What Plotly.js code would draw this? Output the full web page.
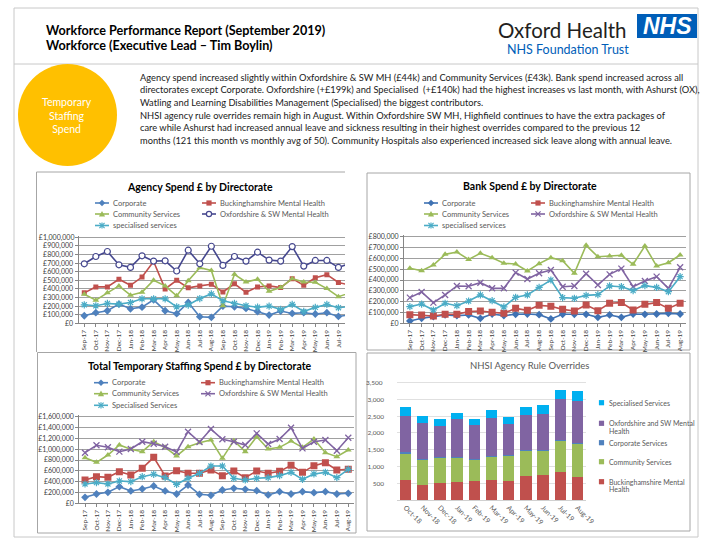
<!DOCTYPE html>
<html><head><meta charset="utf-8">
<script src="https://cdn.plot.ly/plotly-3.0.1.min.js"></script>
<style>
html,body{margin:0;padding:0;background:#fff}
#wrap{position:relative;width:720px;height:540px}
#chart{width:720px;height:540px}
.toplabel{position:absolute;z-index:20;white-space:nowrap;font-family:Lato,"Open Sans",sans-serif;line-height:9px;text-align:right}
</style>
</head><body><div id="wrap"><div id="chart"></div></div>
<script>
// ---------- DATA ----------
const months = ['Sep-17','Oct-17','Nov-17','Dec-17','Jan-18','Feb-18','Mar-18','Apr-18','May-18','Jun-18','Jul-18','Aug-18','Sep-18','Oct-18','Nov-18','Dec-18','Jan-19','Feb-19','Mar-19','Apr-19','May-19','Jun-19','Jul-19','Aug-19'];
const seriesNames = ['Corporate','Buckinghamshire Mental Health','Community Services','Oxfordshire & SW Mental Health','specialised services'];
const totalNames = ['Corporate','Buckinghamshire Mental Health','Community Services','Oxfordshire & SW Mental Health','Specialised Services'];

// Agency spend (£)
const agencyCorporate   = [88000,123000,146000,223000,169000,188000,273000,146000,112000,242000,77000,69000,200000,192000,173000,135000,96000,142000,115000,123000,108000,123000,80000,99000];
const agencyBucks       = [354000,423000,423000,512000,442000,538000,719000,400000,500000,412000,435000,454000,365000,460000,360000,423000,435000,415000,519000,442000,530000,565000,475000,443000];
const agencyCommunity   = [338000,269000,354000,435000,327000,362000,500000,435000,319000,495000,646000,615000,204000,569000,480000,512000,373000,415000,519000,480000,477000,404000,309000,354000];
const agencyOxon        = [692000,777000,835000,680000,650000,785000,723000,727000,608000,850000,692000,896000,673000,777000,723000,827000,735000,723000,892000,665000,731000,731000,650000,695000];
const agencySpecialised = [215000,204000,231000,223000,242000,285000,285000,285000,192000,212000,288000,342000,262000,231000,204000,188000,200000,162000,219000,138000,185000,219000,181000,197000];

// Bank spend (£)
const bankCorporate   = [22000,46000,62000,77000,71000,77000,46000,86000,71000,83000,86000,80000,40000,83000,83000,83000,55000,77000,55000,86000,83000,86000,92000,86000];
const bankBucks       = [80000,77000,68000,83000,83000,108000,114000,102000,92000,138000,120000,166000,157000,129000,114000,169000,117000,185000,191000,123000,175000,191000,138000,185000];
const bankCommunity   = [508000,486000,538000,637000,658000,590000,646000,606000,554000,548000,483000,551000,606000,578000,462000,720000,615000,622000,628000,545000,714000,529000,560000,631000];
const bankOxon        = [237000,289000,191000,262000,345000,342000,375000,323000,323000,468000,409000,462000,492000,338000,345000,458000,354000,452000,505000,338000,391000,431000,323000,517000];
const bankSpecialised = [154000,178000,123000,185000,163000,206000,262000,209000,151000,240000,262000,332000,400000,237000,231000,258000,265000,345000,338000,302000,348000,332000,292000,431000];

// Total temporary staffing spend (£)
const totalCorporate   = [111000,172000,203000,308000,228000,265000,320000,228000,172000,338000,166000,148000,246000,277000,258000,234000,154000,215000,172000,215000,197000,215000,172000,185000];
const totalBucks       = [431000,492000,480000,585000,523000,646000,849000,505000,603000,554000,554000,615000,511000,597000,474000,597000,554000,590000,702000,572000,695000,750000,615000,628000];
const totalCommunity   = [843000,757000,892000,1077000,997000,954000,1138000,1034000,874000,1046000,1120000,1169000,831000,1157000,954000,1231000,1003000,1034000,1150000,1034000,1188000,935000,862000,985000];
const totalOxon        = [935000,1071000,1034000,954000,1003000,1138000,1100000,1046000,948000,1323000,1132000,1372000,1182000,1138000,1077000,1292000,1095000,1188000,1397000,1015000,1138000,1169000,972000,1212000];
const totalSpecialised = [357000,382000,357000,412000,400000,492000,535000,474000,351000,462000,554000,689000,689000,462000,431000,462000,474000,511000,572000,443000,542000,572000,474000,628000];

// NHSI agency rule overrides
const overrideMonths = ['Oct-18','Nov-18','Dec-18','Jan-19','Feb-19','Mar-19','Apr-19','May-19','Jun-19','Jul-19','Aug-19'];
const ovBucks       = [596,457,507,537,577,596,567,726,746,835,696];
const ovCommunity   = [786,736,755,706,616,686,745,735,715,924,974];
const ovCorporate   = [45,40,30,30,30,30,40,30,30,30,30];
const ovOxon        = [1078,1073,915,1133,1014,1143,904,1034,1064,1223,1242];
const ovSpecialised = [278,199,199,198,188,229,229,258,278,268,299];
const ovNames = ['Buckinghamshire Mental Health','Community Services','Corporate Services','Oxfordshire and SW Mental Health','Specialised Services'];
const ovLegendLines = [['Buckinghamshire Mental','Health'],['Community Services'],['Corporate Services'],['Oxfordshire and SW Mental','Health'],['Specialised Services']];
const ovTicks = [500,1000,1500,2000,2500,3000,3500];

// ---------- STYLE ----------
const W = 720, H = 540;
const X = p => p / W;
const Y = p => 1 - p / H;
const FONT = 'Lato, "Open Sans", sans-serif';
const C = {corp:'#4F81BD', bucks:'#C0504D', comm:'#9BBB59', oxonA:'#46488F', oxon:'#8064A2', spec:'#4BACC6', ovSpec:'#00B0F0'};

function lt(name, y, color, marker, xa, ya) {
  return {type:'scatter', mode:'lines+markers', x:months, y:y, name:name,
    line:{color:color, width:1.6}, marker:marker, xaxis:xa, yaxis:ya,
    showlegend:false, cliponaxis:true, hoverinfo:'skip'};
}
const mk = {
  diamond: c => ({symbol:'diamond', size:6, color:c}),
  square: (c,s) => ({symbol:'square', size:s||5, color:c}),
  tri: c => ({symbol:'triangle-up', size:6, color:c}),
  circ: c => ({symbol:'circle', size:6, color:'#ffffff', line:{color:c, width:1.2}}),
  x: c => ({symbol:'x-thin-open', size:6, color:c, line:{color:c, width:1.3}}),
  ast: c => ({symbol:'asterisk-open', size:6, color:c, line:{color:c, width:1.2}})
};

const traces = [
  lt(seriesNames[0], agencyCorporate, C.corp, mk.diamond(C.corp), 'x', 'y'),
  lt(seriesNames[1], agencyBucks, C.bucks, mk.square(C.bucks,5), 'x', 'y'),
  lt(seriesNames[2], agencyCommunity, C.comm, mk.tri(C.comm), 'x', 'y'),
  lt(seriesNames[3], agencyOxon, C.oxonA, mk.circ(C.oxonA), 'x', 'y'),
  lt(seriesNames[4], agencySpecialised, C.spec, mk.ast(C.spec), 'x', 'y'),

  lt(seriesNames[0], bankCorporate, '#3F72B3', mk.diamond('#3F72B3'), 'x2', 'y2'),
  lt(seriesNames[1], bankBucks, C.bucks, mk.square(C.bucks,7), 'x2', 'y2'),
  lt(seriesNames[2], bankCommunity, C.comm, mk.tri(C.comm), 'x2', 'y2'),
  lt(seriesNames[3], bankOxon, C.oxon, mk.x(C.oxon), 'x2', 'y2'),
  lt(seriesNames[4], bankSpecialised, C.spec, mk.ast(C.spec), 'x2', 'y2'),

  lt(totalNames[0], totalCorporate, C.corp, mk.diamond(C.corp), 'x3', 'y3'),
  lt(totalNames[1], totalBucks, C.bucks, mk.square(C.bucks,7), 'x3', 'y3'),
  lt(totalNames[2], totalCommunity, C.comm, mk.tri(C.comm), 'x3', 'y3'),
  lt(totalNames[3], totalOxon, C.oxon, mk.x(C.oxon), 'x3', 'y3'),
  lt(totalNames[4], totalSpecialised, C.spec, mk.ast(C.spec), 'x3', 'y3')
];
const ovSeries = [ovBucks, ovCommunity, ovCorporate, ovOxon, ovSpecialised];
const ovColors = [C.bucks, C.comm, C.corp, C.oxon, C.ovSpec];
ovSeries.forEach((v,i) => traces.push({type:'bar', x:overrideMonths, y:v, name:ovNames[i],
  marker:{color:ovColors[i]}, xaxis:'x4', yaxis:'y4', showlegend:false, hoverinfo:'skip'}));

// ---------- AXES ----------
const tickF = {family:FONT, size:6.5, color:'#404040'};
function xLine(domain, range) {
  return {type:'category', domain:domain, range:range, tickangle:-90, tickfont:tickF,
    showline:true, linecolor:'#868686', linewidth:1, ticks:'outside', ticklen:3, tickcolor:'#868686',
    showgrid:false, zeroline:false, fixedrange:true};
}
function yLine(domain, max, dtick) {
  return {domain:domain, range:[0,max], dtick:dtick, tick0:0, tickprefix:'£', tickformat:',d', tickfont:{family:FONT,size:7,color:'#404040'},
    showline:true, linecolor:'#868686', ticks:'outside', ticklen:3, tickcolor:'#868686', ticklabeloverflow:'allow',
    gridcolor:'#a0a0a0', gridwidth:1, zeroline:false, fixedrange:true};
}

const layout = {
  width:W, height:H, margin:{l:0,r:0,t:0,b:0}, paper_bgcolor:'#ffffff', plot_bgcolor:'rgba(0,0,0,0)',
  font:{family:FONT}, showlegend:false, barmode:'stack', bargap:0.34,
  xaxis: Object.assign(xLine([X(78.5),X(345)], [-0.5,22.57]), {anchor:'y'}),
  yaxis: Object.assign(yLine([Y(323.3),Y(236)], 1015100, 100000), {anchor:'x'}),
  xaxis2: Object.assign(xLine([X(404),X(686)], [-0.5,23.5]), {anchor:'y2'}),
  yaxis2: Object.assign(yLine([Y(323.3),Y(235.4)], 812000, 100000), {anchor:'x2'}),
  xaxis3: Object.assign(xLine([X(79.3),X(354)], [-0.5,23.5]), {anchor:'y3'}),
  yaxis3: Object.assign(yLine([Y(503.3),Y(415.4)], 1624000, 200000), {anchor:'x3'}),
  xaxis4: {type:'category', domain:[X(397),X(586)], anchor:'y4', tickangle:45, tickfont:{family:FONT,size:7,color:'#595959'},
    showline:true, linecolor:'#d0d0d0', ticks:'', showgrid:false, zeroline:false},
  yaxis4: {domain:[Y(500),Y(381.4)], anchor:'x4', range:[0,3539], tickvals:ovTicks, tickformat:',d', ticklabeloverflow:'allow',
    ticklabelstandoff:12, tickfont:{family:FONT,size:6.5,color:'#595959'}, gridcolor:'#e0e0e0', showline:false, zeroline:false, ticks:''},
  shapes: [], annotations: []
};
const S = layout.shapes, A = layout.annotations;

// ---------- FRAMES ----------
function rect(x0,y0,x1,y1,line){S.push({type:'rect',xref:'paper',yref:'paper',x0:X(x0),x1:X(x1),y0:Y(y0),y1:Y(y1),line:line||{color:'#a6a6a6',width:1},fillcolor:'rgba(0,0,0,0)',layer:'below'});}
function hline(x0,x1,y,color,w){S.push({type:'line',xref:'paper',yref:'paper',x0:X(x0),x1:X(x1),y0:Y(y),y1:Y(y),line:{color:color,width:w}});}
function vline(x,y0,y1,color,w){S.push({type:'line',xref:'paper',yref:'paper',x0:X(x),x1:X(x),y0:Y(y0),y1:Y(y1),line:{color:color,width:w}});}

rect(14,8,698,537,{color:'#c8c8c8',width:1});
hline(14,698,64,'#c8c8c8',1);
hline(36.5,345,172,'#a6a6a6',1); vline(36.5,172,352,'#a6a6a6',1);
rect(367,173,690,350);
rect(37.5,352.5,356,533);
rect(367,353,690,531);

// ---------- HEADER ----------
function txt(t,x,y,size,color,opts){A.push(Object.assign({text:t,xref:'paper',yref:'paper',x:X(x),y:Y(y),showarrow:false,
  xanchor:'left',yanchor:'middle',font:{family:FONT,size:size,color:color}},opts||{}));}
const bold = (s,c) => ({font:{family:FONT,size:s,color:c,weight:'bold'}});
txt('Workforce Performance Report (September 2019)',44,31,12.6,'#000',bold(12.6,'#000'));
txt('Workforce (Executive Lead – Tim Boylin)',44,46,12.6,'#000',bold(12.6,'#000'));
txt('Oxford Health',496,30,20.5,'#231F20');
txt('NHS Foundation Trust',505,50,12.5,'#005EB8');
S.push({type:'rect',xref:'paper',yref:'paper',x0:X(637),x1:X(697),y0:Y(38),y1:Y(14),line:{width:0},fillcolor:'#005EB8'});
txt('NHS',667,26.5,23,'#fff',{xanchor:'center',font:{family:'"Liberation Sans", Arial, sans-serif',size:23,color:'#fff',weight:'bold',style:'italic'}});

S.push({type:'circle',xref:'paper',yref:'paper',x0:X(18),x1:X(117),y0:Y(166),y1:Y(64),line:{width:0},fillcolor:'#FFC000'});
txt('Temporary<br>Staffing<br>Spend',67,116,10.5,'#fff',{xanchor:'center',align:'center'});

const para = [
 'Agency spend increased slightly within Oxfordshire & SW MH (£44k) and Community Services (£43k). Bank spend increased across all',
 'directorates except Corporate. Oxfordshire (+£199k) and Specialised  (+£140k) had the highest increases vs last month, with Ashurst (OX),',
 'Watling and Learning Disabilities Management (Specialised) the biggest contributors.',
 'NHSI agency rule overrides remain high in August. Within Oxfordshire SW MH, Highfield continues to have the extra packages of',
 'care while Ashurst had increased annual leave and sickness resulting in their highest overrides compared to the previous 12',
 'months (121 this month vs monthly avg of 50). Community Hospitals also experienced increased sick leave along with annual leave.'
];
const paraY = [78,90,102.5,115,127.5,140];
para.forEach((t,i)=>txt(t,138,paraY[i],9.3,'#1a1a1a'));

txt('Agency Spend £ by Directorate',200,187,10.5,'#000',Object.assign({xanchor:'center'},bold(10.5,'#000')));
txt('Bank Spend £ by Directorate',530,186,10.5,'#000',Object.assign({xanchor:'center'},bold(10.5,'#000')));
txt('Total Temporary Staffing Spend £ by Directorate',200,366,10.5,'#000',Object.assign({xanchor:'center'},bold(10.5,'#000')));
txt('NHSI Agency Rule Overrides',529.5,365,9.5,'#595959',{xanchor:'center'});

// top tick label of the overrides axis, drawn as an annotation
txt('3,500', 385, 382.7, 6.5, '#595959', {xanchor:'right'});

// ---------- LEGENDS ----------
function markerShape(sym, cx, cy, color, r) {
  r = r || 2.6;
  const P = pts => 'M ' + pts.map(p => X(p[0]) + ',' + Y(p[1])).join(' L ') + ' Z';
  if (sym === 'diamond') S.push({type:'path',xref:'paper',yref:'paper',path:P([[cx,cy-r-0.6],[cx+r+0.6,cy],[cx,cy+r+0.6],[cx-r-0.6,cy]]),fillcolor:color,line:{width:0}});
  else if (sym === 'square') S.push({type:'rect',xref:'paper',yref:'paper',x0:X(cx-r),x1:X(cx+r),y0:Y(cy+r),y1:Y(cy-r),fillcolor:color,line:{width:0}});
  else if (sym === 'tri') S.push({type:'path',xref:'paper',yref:'paper',path:P([[cx,cy-r-0.5],[cx+r+0.5,cy+r],[cx-r-0.5,cy+r]]),fillcolor:color,line:{width:0}});
  else if (sym === 'circ') S.push({type:'circle',xref:'paper',yref:'paper',x0:X(cx-r),x1:X(cx+r),y0:Y(cy+r),y1:Y(cy-r),fillcolor:'#fff',line:{color:color,width:1.2}});
  else if (sym === 'x' || sym === 'ast') {
    S.push({type:'line',xref:'paper',yref:'paper',x0:X(cx-r),x1:X(cx+r),y0:Y(cy-r),y1:Y(cy+r),line:{color:color,width:1.2}});
    S.push({type:'line',xref:'paper',yref:'paper',x0:X(cx-r),x1:X(cx+r),y0:Y(cy+r),y1:Y(cy-r),line:{color:color,width:1.2}});
    if (sym === 'ast') S.push({type:'line',xref:'paper',yref:'paper',x0:X(cx),x1:X(cx),y0:Y(cy-r-0.5),y1:Y(cy+r+0.5),line:{color:color,width:1.2}});
  }
}
function lineLegend(names, colors, syms, col1, col2, rows) {
  names.forEach((n,i) => {
    const x0 = (i % 2 === 0) ? col1 : col2;
    const y = rows[Math.floor(i/2)];
    hline(x0, x0+14, y, colors[i], 1.6);
    markerShape(syms[i], x0+7, y, colors[i]);
    txt(n, x0+16, y, 7.5, '#595959');
  });
}
lineLegend(seriesNames, [C.corp,C.bucks,C.comm,C.oxonA,C.spec], ['diamond','square','tri','circ','ast'], 95, 202, [203,214,225.5]);
lineLegend(seriesNames, ['#3F72B3',C.bucks,C.comm,C.oxon,C.spec], ['diamond','square','tri','x','ast'], 424, 531, [203,214,225.5]);
lineLegend(totalNames, [C.corp,C.bucks,C.comm,C.oxon,C.spec], ['diamond','square','tri','x','ast'], 94, 201, [382.7,393.7,405.3]);

const barLegY = [481.7, 461.7, 442.7, 423.3, 402.7];
ovLegendLines.forEach((lines,i) => {
  markerShape('square', 601.5, barLegY[i], ovColors[i], 2.6);
  lines.forEach((l,j) => txt(l, 606.5, barLegY[i] + j*7.6, 7, '#595959'));
});

// top tick label of the agency axis, kept in a small overlay so nothing in the figure can cover it
const agencyTop = {text:'£1,000,000', right:74.5, y:237.3, size:7, color:'#404040'};

Plotly.newPlot('chart', traces, layout, {staticPlot:true, displayModeBar:false}).then(() => {
  // hide axis-drawn copies of the two top labels so they are not doubled
  [['.ytick text','£1,000,000'],['.y4tick text','3,500']].forEach(([sel,t]) =>
    document.querySelectorAll(sel).forEach(e => { if (e.textContent === t) e.setAttribute('visibility','hidden'); }));
  const d = document.createElement('div');
  d.className = 'toplabel';
  d.textContent = agencyTop.text;
  d.style.fontSize = agencyTop.size + 'px';
  d.style.color = agencyTop.color;
  d.style.right = (W - agencyTop.right) + 'px';
  d.style.top = (agencyTop.y - 4.5) + 'px';
  document.getElementById('wrap').appendChild(d);
});
</script>
</body></html>
